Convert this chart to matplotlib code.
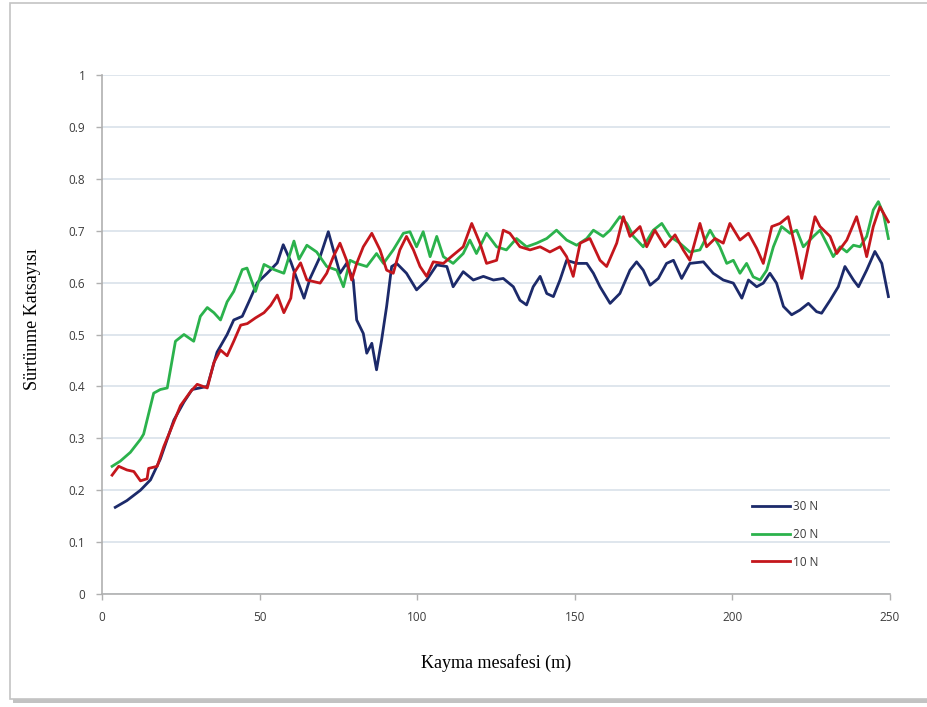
import numpy as np
import matplotlib
matplotlib.use("Agg")
import matplotlib.pyplot as plt
from matplotlib.patches import Rectangle

# 30 N
x30 = [4.2, 7.9, 12.2, 15.4, 18.5, 22.8, 26.0, 28.6, 33.4, 36.5, 39.7, 41.8, 44.5, 46.6, 49.3,
       52.4, 55.6, 57.5, 59.9, 62.0, 64.1, 66.0, 69.2, 71.8, 73.4, 75.5, 77.6, 79.7, 80.8, 82.9,
       84.0, 85.6, 87.1, 88.7, 90.3, 91.9, 93.5, 96.6, 99.8, 103.0, 106.2, 109.4, 111.4, 114.6,
       117.8, 121.0, 124.2, 127.3, 130.5, 132.6, 134.7, 136.8, 139.0, 141.1, 143.2, 145.3, 147.4,
       150.6, 153.8, 155.9, 158.0, 161.2, 164.3, 167.5, 169.6, 171.7, 173.9, 176.5, 179.1, 181.3,
       183.9, 186.5, 190.8, 193.9, 197.1, 200.3, 203.0, 205.1, 207.7, 209.8, 211.9, 214.0, 216.2,
       218.8, 221.4, 224.1, 226.7, 228.3, 231.0, 233.6, 235.7, 238.4, 240.0, 242.6, 245.2, 247.4,
       249.5]
y30 = [0.167, 0.18, 0.20, 0.22, 0.26, 0.335, 0.37, 0.394, 0.40, 0.466, 0.50, 0.528, 0.535, 0.563, 0.60,
       0.618, 0.638, 0.673, 0.64, 0.604, 0.57, 0.608, 0.650, 0.698, 0.663, 0.618, 0.637, 0.605, 0.528, 0.502,
       0.464, 0.483, 0.432, 0.489, 0.554, 0.631, 0.637, 0.618, 0.586, 0.605, 0.634, 0.631, 0.592, 0.621,
       0.605, 0.612, 0.605, 0.608, 0.592, 0.566, 0.557, 0.592, 0.612, 0.579, 0.573, 0.605, 0.643,
       0.637, 0.637, 0.618, 0.592, 0.560, 0.579, 0.624, 0.640, 0.624, 0.595, 0.608, 0.637, 0.643,
       0.608, 0.637, 0.640, 0.618, 0.605, 0.599, 0.570, 0.605, 0.592, 0.599, 0.618, 0.599, 0.554,
       0.538, 0.547, 0.560, 0.544, 0.541, 0.566, 0.592, 0.631, 0.605, 0.592, 0.624, 0.660, 0.637,
       0.573]

# 20 N
x20 = [3.2, 5.8, 9.0, 12.2, 13.2, 16.4, 18.5, 20.7, 23.3, 26.0, 29.1, 31.2, 33.4, 35.5, 37.6, 39.7,
       41.8, 44.5, 46.0, 48.7, 51.4, 54.6, 57.7, 60.9, 62.5, 65.0, 68.1, 71.3, 74.5, 76.6, 78.7,
       80.8, 84.0, 87.1, 89.3, 92.4, 95.6, 97.7, 99.8, 101.9, 104.1, 106.2, 108.3, 111.4, 114.6,
       116.7, 118.8, 122.0, 125.2, 128.3, 131.5, 134.7, 137.9, 141.1, 144.2, 147.4, 150.6, 153.8,
       155.9, 159.0, 161.2, 164.3, 166.5, 168.6, 171.7, 174.9, 177.6, 180.2, 183.3, 186.5, 189.7,
       192.9, 196.0, 198.2, 200.3, 202.4, 204.5, 206.6, 208.8, 210.9, 213.0, 215.6, 218.3, 220.4,
       222.5, 225.7, 227.8, 229.9, 232.0, 234.2, 236.3, 238.4, 240.5, 242.6, 244.7, 246.3, 247.9,
       249.5]
y20 = [0.246, 0.256, 0.273, 0.298, 0.308, 0.387, 0.394, 0.397, 0.487, 0.50, 0.487, 0.535, 0.552, 0.542, 0.528, 0.563,
       0.583, 0.625, 0.628, 0.583, 0.635, 0.625, 0.618, 0.68, 0.645, 0.672, 0.659, 0.631, 0.624, 0.592, 0.643,
       0.637, 0.631, 0.656, 0.637, 0.663, 0.695, 0.698, 0.669, 0.698, 0.650, 0.689, 0.650, 0.637, 0.656,
       0.682, 0.656, 0.695, 0.669, 0.663, 0.685, 0.669, 0.676, 0.685, 0.701, 0.682, 0.672, 0.685,
       0.701, 0.689, 0.701, 0.727, 0.714, 0.689, 0.669, 0.701, 0.714, 0.689, 0.676, 0.659, 0.663,
       0.701, 0.669, 0.637, 0.643, 0.618, 0.637, 0.611, 0.605, 0.624, 0.669, 0.708, 0.695, 0.701,
       0.669, 0.689, 0.701, 0.676, 0.650, 0.669, 0.659, 0.672, 0.669, 0.689, 0.740, 0.756, 0.733,
       0.685]

# 10 N
x10 = [3.2, 5.3, 7.9, 10.1, 12.2, 14.3, 14.8, 17.5, 19.6, 21.7, 24.9, 28.1, 30.2, 33.4, 35.5, 37.6,
       39.7, 41.8, 44.0, 46.1, 48.7, 51.4, 53.5, 55.6, 57.7, 59.9, 60.9, 63.0, 65.0, 69.2, 71.3,
       73.4, 75.5, 77.6, 79.2, 80.8, 82.9, 85.6, 88.2, 90.3, 92.4, 94.5, 96.6, 98.8, 100.9, 103.0,
       105.1, 108.3, 111.4, 114.6, 117.3, 119.9, 122.0, 125.2, 127.3, 129.4, 132.6, 135.8, 139.0,
       142.1, 145.3, 147.4, 149.5, 151.7, 154.8, 158.0, 160.1, 163.3, 165.4, 167.5, 170.7, 172.8,
       175.4, 178.6, 181.8, 184.4, 186.5, 189.7, 191.8, 194.5, 197.1, 199.2, 202.4, 205.1, 207.7,
       209.8, 212.5, 215.1, 217.7, 219.9, 222.0, 224.1, 226.2, 227.8, 231.0, 233.1, 236.3, 239.4,
       241.1, 242.6, 244.7, 246.8, 249.5]
y10 = [0.229, 0.246, 0.239, 0.236, 0.218, 0.222, 0.242, 0.246, 0.284, 0.315, 0.363, 0.39, 0.404, 0.397, 0.446, 0.47,
       0.459, 0.487, 0.518, 0.521, 0.532, 0.542, 0.556, 0.576, 0.542, 0.57, 0.618, 0.638, 0.605, 0.599, 0.618,
       0.650, 0.676, 0.643, 0.605, 0.637, 0.669, 0.695, 0.663, 0.624, 0.618, 0.663, 0.689, 0.663, 0.631, 0.612,
       0.640, 0.637, 0.653, 0.669, 0.714, 0.676, 0.637, 0.643, 0.701, 0.695, 0.669, 0.663, 0.669,
       0.659, 0.669, 0.650, 0.612, 0.676, 0.685, 0.643, 0.631, 0.676, 0.727, 0.689, 0.708, 0.669,
       0.701, 0.669, 0.692, 0.663, 0.643, 0.714, 0.669, 0.685, 0.676, 0.714, 0.682, 0.695, 0.666,
       0.637, 0.708, 0.714, 0.727, 0.669, 0.608, 0.669, 0.727, 0.708, 0.689, 0.656, 0.682, 0.727,
       0.689, 0.650, 0.708, 0.746, 0.717]

fig = plt.figure(figsize=(9.28, 7.07), dpi=100)
# chart frame with a soft shadow
fig.patches.append(Rectangle((13 / 928, 4 / 707), 915 / 928, 698 / 707, transform=fig.transFigure,
                             facecolor='#9a9a9a', edgecolor='none', alpha=0.6, zorder=-20))
fig.patches.append(Rectangle((10 / 928, 8 / 707), 918 / 928, 696 / 707, transform=fig.transFigure,
                             facecolor='white', edgecolor='#c4c4c4', linewidth=1.2, zorder=-10))

ax = fig.add_axes([102 / 928, 1 - 594 / 707, 788 / 928, 519 / 707])
ax.patch.set_alpha(0)

ax.plot(x30, y30, color='#1c2a6a', lw=2.0, label='30 N')
ax.plot(x20, y20, color='#2bb24c', lw=2.0, label='20 N')
ax.plot(x10, y10, color='#c4161c', lw=2.0, label='10 N')

ax.set_xlim(0, 250)
ax.set_ylim(0, 1)
ax.set_xticks(np.arange(0, 251, 50))
ax.set_yticks(np.arange(0, 1.01, 0.1))
ax.set_yticklabels(['0', '0.1', '0.2', '0.3', '0.4', '0.5', '0.6', '0.7', '0.8', '0.9', '1'])
ax.yaxis.grid(True, color='#d9e1ea', lw=1.2)
ax.set_axisbelow(True)
for s in ['top', 'right']:
    ax.spines[s].set_visible(False)
for s in ['left', 'bottom']:
    ax.spines[s].set_color('#b0b0b0')
    ax.spines[s].set_linewidth(1.2)
ax.tick_params(colors='#b0b0b0', labelcolor='#3c3c3c', labelsize=8.5, length=4, width=1)
for lab in ax.get_xticklabels() + ax.get_yticklabels():
    lab.set_family('Open Sans')
ax.tick_params(axis='x', pad=8)
ax.tick_params(axis='y', pad=8)

ax.set_xlabel('Kayma mesafesi (m)', family='Liberation Serif', fontsize=13, labelpad=22)
ax.set_ylabel('Sürtünme Katsayısı', family='Liberation Serif', fontsize=13)
ax.yaxis.set_label_coords(-0.077, 0.53)

leg = ax.legend(loc='upper left', bbox_to_anchor=(0.825, 0.181), frameon=False,
                prop={'family': 'Open Sans', 'size': 8.5}, handlelength=3.2,
                handletextpad=0.25, labelspacing=1.25, borderpad=0, borderaxespad=0)
for t in leg.get_texts():
    t.set_color('#3c3c3c')

fig.savefig('out.png', dpi=100)
